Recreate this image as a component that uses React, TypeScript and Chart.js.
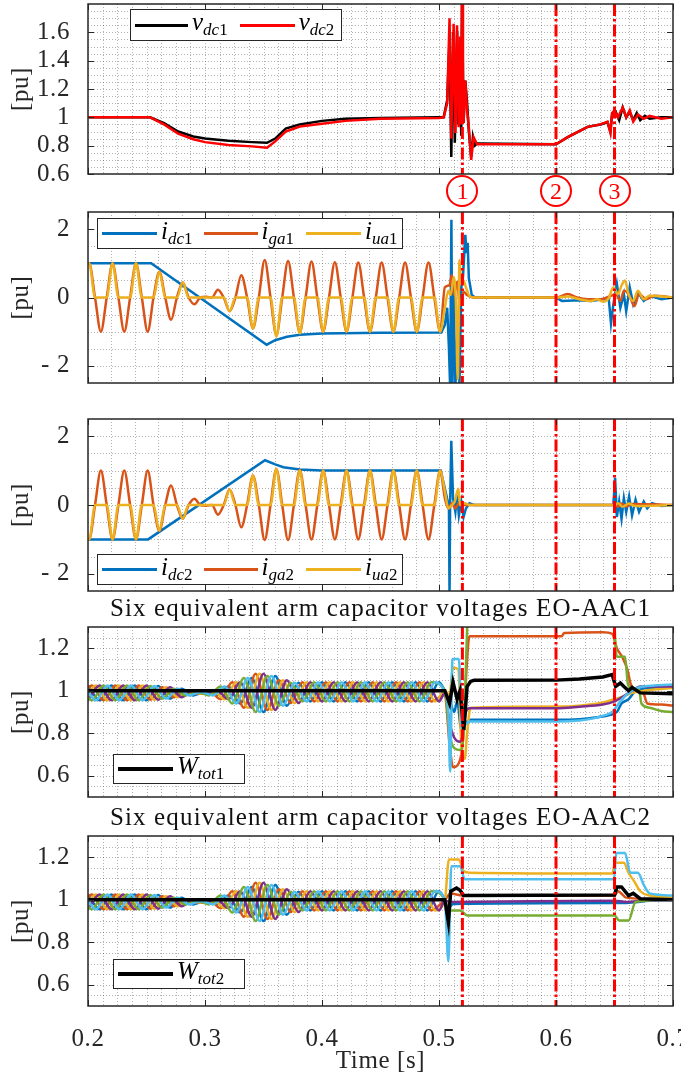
import React, { useEffect, useRef } from 'react';
import { Chart, registerables } from 'chart.js';

Chart.register(...registerables);

const SERIF = '"Liberation Serif", "Times New Roman", serif';
const INK = '#262626';
const GRID = 'rgba(0,0,0,0.30)';
const BLUE = '#0072BD';
const ORANGE = '#D95319';
const YELLOW = '#EDB120';
const PURPLE = '#7E2F8E';
const GREEN = '#77AC30';
const LBLUE = '#4DBEEE';
const BLACK = '#000000';
const RED = '#FF0000';

const X_MIN = 0.2;
const X_MAX = 0.7;
const xTicks = [0.2, 0.3, 0.4, 0.5, 0.6, 0.7];
const xTickLabels = ['0.2', '0.3', '0.4', '0.5', '0.6', '0.7'];
const eventTimes = [0.52, 0.6, 0.65];
const eventNames = ['1', '2', '3'];

const yTicksV = [0.6, 0.8, 1, 1.2, 1.4, 1.6];
const yLabelsV = ['0.6', '0.8', '1', '1.2', '1.4', '1.6'];
const yTicksI = [-2, 0, 2];
const yLabelsI = ['- 2', '0', '2'];
const yTicksW = [0.6, 0.8, 1, 1.2];
const yLabelsW = ['0.6', '0.8', '1', '1.2'];

// ---------- Panel 1: DC voltages ----------
const vdc1 = [[0.2,1],[0.253,1],[0.265,0.96],[0.277,0.9],[0.29,0.865],[0.3,0.85],[0.32,0.835],[0.34,0.825],[0.353,0.82],[0.36,0.85],[0.369,0.92],[0.381,0.95],[0.4,0.975],[0.42,0.99],[0.45,0.995],[0.5,1],[0.504,1],[0.507,1.12],[0.509,1.55],[0.5105,0.72],[0.512,1.6],[0.5135,0.82],[0.5155,1.61],[0.5165,0.95],[0.518,1.5],[0.519,0.87],[0.5197,1.85],[0.521,0.96],[0.5225,1.26],[0.524,1.1],[0.5255,0.9],[0.5275,0.72],[0.529,0.86],[0.5305,0.8],[0.5325,0.815],[0.6,0.81],[0.61,0.86],[0.627,0.933],[0.638,0.95],[0.644,0.965],[0.6465,0.9],[0.648,1.03],[0.651,1.04],[0.654,0.98],[0.657,1.07],[0.66,1],[0.663,1.04],[0.666,0.98],[0.669,1.03],[0.672,0.98],[0.676,1.01],[0.68,0.99],[0.69,1],[0.7,1]];
const vdc2 = [[0.2,1],[0.253,1],[0.265,0.95],[0.277,0.885],[0.29,0.845],[0.3,0.825],[0.32,0.805],[0.34,0.795],[0.353,0.785],[0.36,0.83],[0.369,0.9],[0.381,0.935],[0.4,0.955],[0.42,0.975],[0.45,0.99],[0.5,0.995],[0.504,1],[0.507,1.1],[0.509,1.7],[0.5105,0.85],[0.5125,1.66],[0.514,0.89],[0.5154,1.65],[0.5168,0.93],[0.518,1.57],[0.519,0.95],[0.5197,1.9],[0.5205,1],[0.521,0.96],[0.5225,1.26],[0.524,1.05],[0.5255,0.93],[0.5275,0.7],[0.5285,0.78],[0.5296,0.86],[0.5325,0.81],[0.6,0.81],[0.61,0.86],[0.627,0.933],[0.638,0.95],[0.644,0.97],[0.6465,0.89],[0.648,1.03],[0.65,1.05],[0.653,1],[0.657,1.07],[0.66,1],[0.663,1.05],[0.666,0.97],[0.67,1.02],[0.675,0.99],[0.68,1.01],[0.69,0.99],[0.7,1]];

// ---------- Panel 2: currents, converter 1 ----------
const idc1 = [[0.2,1],[0.254,1],[0.3527,-1.38],[0.36,-1.25],[0.37,-1.15],[0.381,-1.09],[0.4,-1.05],[0.45,-1.03],[0.502,-1.02],[0.505,-0.8],[0.507,-0.3],[0.5085,-1.5],[0.5095,-2.6],[0.5106,2.27],[0.5115,-2.6],[0.5125,0.4],[0.514,-2.6],[0.516,-0.8],[0.5175,-2.6],[0.519,0.3],[0.5205,0.6],[0.5225,1.83],[0.5235,1.3],[0.5245,1.6],[0.5255,0.57],[0.528,0.07],[0.531,0],[0.6,0],[0.605,-0.1],[0.62,-0.08],[0.63,-0.1],[0.64,-0.05],[0.645,0],[0.647,-0.76],[0.649,-0.2],[0.652,0.4],[0.655,-0.3],[0.658,0.1],[0.66,-0.4],[0.663,0.3],[0.666,-0.2],[0.67,0.15],[0.675,-0.1],[0.68,0.05],[0.69,-0.05],[0.7,0]];
const iga1 = [[0.2,0.99],[0.201,1],[0.206,0],[0.211,-1],[0.216,0],[0.221,1],[0.226,0],[0.231,-1],[0.236,0],[0.241,1],[0.246,0],[0.251,-1],[0.256,0],[0.261,0.75],[0.266,0],[0.271,-0.65],[0.276,0],[0.281,0.44],[0.286,0],[0.291,-0.2],[0.296,0],[0.301,0.02],[0.306,0],[0.311,0.23],[0.316,0],[0.321,-0.4],[0.326,0],[0.331,0.65],[0.336,0],[0.341,-0.9],[0.346,0],[0.351,1.1],[0.356,0],[0.361,-1.1],[0.366,0],[0.371,1.07],[0.376,0],[0.381,-1.02],[0.386,0],[0.391,1.05],[0.396,0],[0.401,-1],[0.406,0],[0.411,1.03],[0.416,0],[0.421,-1],[0.426,0],[0.431,1.02],[0.436,0],[0.441,-1],[0.446,0],[0.451,1.02],[0.456,0],[0.461,-1],[0.466,0],[0.471,1.02],[0.476,0],[0.481,-1],[0.486,0],[0.491,1.02],[0.496,0],[0.501,-1],[0.505,0.3],[0.509,0.36],[0.511,0.66],[0.513,0.07],[0.5155,0.46],[0.518,-0.23],[0.521,0.17],[0.524,0.07],[0.527,0.02],[0.53,0],[0.6,0],[0.61,0.1],[0.618,0],[0.627,-0.05],[0.638,-0.05],[0.647,0.05],[0.651,0.1],[0.655,-0.1],[0.658,0.2],[0.661,0.15],[0.664,-0.05],[0.667,-0.25],[0.671,0.1],[0.677,-0.05],[0.684,0.05],[0.7,0]];
const iua1 = [[0.2,0.98],[0.201,1],[0.206,0],[0.216,0],[0.221,1],[0.226,0],[0.236,0],[0.241,1],[0.246,0],[0.256,0],[0.261,0.75],[0.266,0],[0.276,0],[0.281,0.44],[0.286,0],[0.316,0],[0.321,-0.4],[0.326,0],[0.336,0],[0.341,-0.9],[0.346,0],[0.356,0],[0.361,-1.15],[0.366,0],[0.376,0],[0.381,-1.05],[0.386,0],[0.396,0],[0.401,-1],[0.406,0],[0.416,0],[0.421,-1],[0.426,0],[0.436,0],[0.441,-1],[0.446,0],[0.456,0],[0.461,-1],[0.466,0],[0.476,0],[0.481,-1],[0.486,0],[0.496,0],[0.501,-1],[0.505,-0.3],[0.508,0.2],[0.51,0.07],[0.5125,0.6],[0.5145,-0.2],[0.516,-2.4],[0.5175,1.1],[0.519,0.4],[0.521,0.5],[0.523,0.3],[0.526,0.05],[0.53,0],[0.6,0],[0.61,0.03],[0.62,-0.05],[0.63,-0.1],[0.635,-0.05],[0.64,-0.12],[0.645,-0.02],[0.649,0.3],[0.653,0.1],[0.656,0.35],[0.659,0.5],[0.662,0.1],[0.666,-0.1],[0.67,0.2],[0.675,-0.05],[0.68,0.05],[0.7,0]];

// ---------- Panel 3: currents, converter 2 ----------
const idc2 = [[0.2,-1],[0.2514,-1],[0.3513,1.3],[0.36,1.18],[0.367,1.1],[0.381,1.03],[0.4,1],[0.5015,1],[0.5085,-0.05],[0.509,-2.6],[0.5095,0],[0.5105,1.87],[0.512,0.2],[0.514,-0.2],[0.5155,0.3],[0.517,-0.3],[0.519,0.1],[0.521,-0.35],[0.523,-0.1],[0.526,0.05],[0.53,0],[0.649,0],[0.6505,0.79],[0.652,-0.35],[0.654,0.1],[0.656,-0.4],[0.658,0.2],[0.66,-0.2],[0.6625,0.25],[0.665,-0.3],[0.668,0.15],[0.671,-0.2],[0.675,0.1],[0.678,-0.1],[0.682,0.05],[0.69,-0.03],[0.7,0]];
const iga2 = [[0.2,-0.99],[0.201,-1],[0.206,0],[0.211,1],[0.216,0],[0.221,-1],[0.226,0],[0.231,1],[0.236,0],[0.241,-1],[0.246,0],[0.251,1],[0.256,0],[0.261,-0.75],[0.266,0],[0.271,0.57],[0.276,0],[0.281,-0.4],[0.286,0],[0.291,0.18],[0.296,0],[0.301,-0.02],[0.306,0],[0.311,-0.28],[0.316,0],[0.321,0.45],[0.326,0],[0.331,-0.65],[0.336,0],[0.341,0.86],[0.346,0],[0.351,-1.02],[0.356,0],[0.361,1.05],[0.366,0],[0.371,-1.02],[0.376,0],[0.381,1.02],[0.386,0],[0.391,-1],[0.396,0],[0.401,1],[0.406,0],[0.411,-1],[0.416,0],[0.421,1],[0.426,0],[0.431,-1],[0.436,0],[0.441,1],[0.446,0],[0.451,-1],[0.456,0],[0.461,1],[0.466,0],[0.471,-1],[0.476,0],[0.481,1],[0.486,0],[0.491,-1],[0.496,0],[0.501,1],[0.505,0.2],[0.508,-0.1],[0.511,0.05],[0.514,-0.1],[0.517,0.05],[0.52,0],[0.65,0],[0.653,-0.05],[0.656,0.04],[0.66,-0.04],[0.665,0.03],[0.7,0]];
const iua2 = [[0.2,-0.98],[0.201,-1],[0.206,0],[0.216,0],[0.221,-1],[0.226,0],[0.236,0],[0.241,-1],[0.246,0],[0.256,0],[0.261,-0.75],[0.266,0],[0.276,0],[0.281,-0.4],[0.286,0],[0.316,0],[0.321,0.45],[0.326,0],[0.336,0],[0.341,0.86],[0.346,0],[0.356,0],[0.361,1.05],[0.366,0],[0.376,0],[0.381,1],[0.386,0],[0.396,0],[0.401,1],[0.406,0],[0.416,0],[0.421,1],[0.426,0],[0.436,0],[0.441,1],[0.446,0],[0.456,0],[0.461,1],[0.466,0],[0.476,0],[0.481,1],[0.486,0],[0.496,0],[0.501,1],[0.505,0.4],[0.508,-0.1],[0.511,0],[0.5135,0.1],[0.5165,0.47],[0.518,0],[0.522,0.05],[0.526,0],[0.65,0],[0.653,0.05],[0.657,-0.05],[0.662,0.04],[0.668,-0.03],[0.7,0]];

// ---------- Panels 4 & 5: arm capacitor voltages (pre-fault ripple, read at ripple extrema) ----------
const gridA = [0.2,0.21,0.22,0.23,0.24,0.25,0.26,0.27,0.28,0.29,0.3,0.31,0.32,0.33,0.34,0.35,0.36,0.37,0.38,0.39,0.4,0.41,0.42,0.43,0.44,0.45,0.46,0.47,0.48,0.49,0.5];
const gridB = [0.1967,0.2067,0.2167,0.2267,0.2367,0.2467,0.2567,0.2667,0.2767,0.2867,0.2967,0.3067,0.3167,0.3267,0.3367,0.3467,0.3567,0.3667,0.3767,0.3867,0.3967,0.4067,0.4167,0.4267,0.4367,0.4467,0.4567,0.4667,0.4767,0.4867,0.4967];
const gridC = [0.1933,0.2033,0.2133,0.2233,0.2333,0.2433,0.2533,0.2633,0.2733,0.2833,0.2933,0.3033,0.3133,0.3233,0.3333,0.3433,0.3533,0.3633,0.3733,0.3833,0.3933,0.4033,0.4133,0.4233,0.4333,0.4433,0.4533,0.4633,0.4733,0.4833,0.4933];
const ripUp = [1.025,0.955,1.025,0.955,1.025,0.955,1.022,0.963,1.01,0.978,0.994,0.978,1.02,0.94,1.06,0.9,1.07,0.93,1.038,0.95,1.04,0.95,1.04,0.95,1.04,0.95,1.04,0.95,1.04,0.95,1.04];
const ripLo = [0.955,1.025,0.955,1.025,0.955,1.025,0.958,1.017,0.97,1.002,0.986,1.002,0.96,1.04,0.92,1.08,0.91,1.05,0.942,1.04,0.95,1.04,0.95,1.04,0.95,1.04,0.95,1.04,0.95,1.04,0.95];

const aac1Blue = [[0.505,1],[0.509,0.96],[0.513,0.9],[0.5155,0.95],[0.519,0.82],[0.523,0.85],[0.527,0.863],[0.6,0.863],[0.62,0.866],[0.635,0.875],[0.645,0.885],[0.652,0.9],[0.656,0.94],[0.662,0.96],[0.668,1],[0.675,1.01],[0.685,1.015],[0.7,1.02]];
const aac1LBlue = [[0.505,0.99],[0.508,0.9],[0.5095,0.62],[0.5115,1.15],[0.517,1.15],[0.5195,0.82],[0.523,0.845],[0.527,0.855],[0.6,0.855],[0.62,0.86],[0.632,0.87],[0.642,0.885],[0.648,0.9],[0.655,0.95],[0.66,0.98],[0.668,1.01],[0.675,1.02],[0.7,1.03]];
const aac1Yellow = [[0.505,1],[0.509,0.98],[0.512,1.11],[0.5165,1.1],[0.5195,0.7],[0.522,0.68],[0.524,0.8],[0.527,0.92],[0.6,0.926],[0.62,0.93],[0.64,0.945],[0.65,0.96],[0.658,0.975],[0.665,0.99],[0.675,1],[0.7,1.013]];
const aac1Purple = [[0.505,0.99],[0.509,0.85],[0.513,0.78],[0.518,0.76],[0.5205,0.8],[0.523,0.9],[0.526,0.918],[0.6,0.918],[0.62,0.925],[0.64,0.935],[0.65,0.95],[0.658,0.975],[0.665,1],[0.672,1.02],[0.7,1.02]];
const aac1Green = [[0.505,1],[0.509,0.8],[0.513,0.73],[0.519,0.72],[0.5215,0.85],[0.5235,1.2],[0.525,1.4],[0.649,1.4],[0.651,1.2],[0.652,1.16],[0.659,1.16],[0.6615,1.03],[0.665,1.01],[0.671,1.005],[0.673,0.94],[0.68,0.92],[0.69,0.905],[0.7,0.9]];
const aac1Orange = [[0.505,0.98],[0.509,0.75],[0.512,0.64],[0.517,0.66],[0.521,0.8],[0.5235,1.1],[0.526,1.257],[0.605,1.257],[0.607,1.272],[0.64,1.275],[0.648,1.268],[0.652,1.2],[0.657,1.155],[0.661,1.1],[0.664,1.03],[0.67,1],[0.675,0.985],[0.678,0.94],[0.69,0.935],[0.7,0.93]];
const wtot1 = [[0.2,1],[0.505,1],[0.509,0.94],[0.512,1.04],[0.5155,0.96],[0.518,1],[0.5212,0.815],[0.524,1.02],[0.527,1.044],[0.53,1.049],[0.6,1.05],[0.62,1.055],[0.64,1.065],[0.648,1.076],[0.651,1.02],[0.655,1.036],[0.658,1.02],[0.662,1],[0.665,1.015],[0.672,0.99],[0.7,0.986]];

const aac2Yellow = [[0.505,1],[0.5085,1.19],[0.517,1.19],[0.521,1.135],[0.526,1.127],[0.648,1.123],[0.6505,1.174],[0.658,1.174],[0.662,1.127],[0.667,1.085],[0.672,1.04],[0.68,1.02],[0.7,1.01]];
const aac2LBlue = [[0.505,1],[0.508,0.71],[0.5105,1.158],[0.518,1.158],[0.522,1.096],[0.6495,1.096],[0.6515,1.22],[0.659,1.22],[0.6635,1.127],[0.67,1.127],[0.675,1.07],[0.68,1.03],[0.7,1.02]];
const aac2Orange = [[0.505,1],[0.51,1.03],[0.52,1.02],[0.65,1.02],[0.653,1.04],[0.66,1.01],[0.7,1]];
const aac2Purple = [[0.505,0.995],[0.51,0.99],[0.65,0.995],[0.66,0.99],[0.675,0.995],[0.7,1]];
const aac2Blue = [[0.505,1],[0.508,0.96],[0.512,0.98],[0.65,0.985],[0.66,0.985],[0.68,0.995],[0.7,1]];
const aac2Green = [[0.505,1],[0.508,0.95],[0.518,0.95],[0.524,0.926],[0.65,0.926],[0.654,0.902],[0.662,0.902],[0.668,0.99],[0.7,1]];
const wtot2 = [[0.2,1],[0.505,1],[0.508,0.895],[0.51,1.04],[0.515,1.055],[0.518,1.045],[0.521,1.02],[0.65,1.022],[0.652,1.06],[0.656,1.06],[0.662,1.02],[0.666,1.03],[0.672,1.005],[0.7,1]];

const zipPre = (grid: number[], vals: number[]) => grid.map((t, i) => [t, vals[i]]);

type Series = { pts: number[][]; color: string; width: number; order: number; smooth: boolean };
type PanelCfg = {
  top: number; bottom: number; yMin: number; yMax: number; yTicks: number[]; yLabels: string[];
  yMinor: number; xMinor: number; showX: boolean; series: Series[];
};

const armSeries = (post: Record<string, number[][]>, w: number[][]): Series[] => [
  { pts: zipPre(gridA, ripUp).concat(post.blue), color: BLUE, width: 2.5, order: 6, smooth: true },
  { pts: zipPre(gridC, ripLo).concat(post.orange), color: ORANGE, width: 2.5, order: 5, smooth: true },
  { pts: zipPre(gridB, ripLo).concat(post.yellow), color: YELLOW, width: 2.5, order: 4, smooth: true },
  { pts: zipPre(gridA, ripLo).concat(post.purple), color: PURPLE, width: 2.5, order: 3, smooth: true },
  { pts: zipPre(gridC, ripUp).concat(post.green), color: GREEN, width: 2.5, order: 2, smooth: true },
  { pts: zipPre(gridB, ripUp).concat(post.lblue), color: LBLUE, width: 2.5, order: 1, smooth: true },
  { pts: w, color: BLACK, width: 3.5, order: 0, smooth: false },
];

const panels: PanelCfg[] = [
  { top: 4, bottom: 174, yMin: 0.6, yMax: 1.8, yTicks: yTicksV, yLabels: yLabelsV, yMinor: 0.05, xMinor: 0.0125, showX: false,
    series: [ { pts: vdc1, color: BLACK, width: 2.5, order: 1, smooth: false }, { pts: vdc2, color: RED, width: 2.5, order: 0, smooth: false } ] },
  { top: 212, bottom: 383, yMin: -2.5, yMax: 2.5, yTicks: yTicksI, yLabels: yLabelsI, yMinor: 0.5, xMinor: 0.02, showX: false,
    series: [ { pts: idc1, color: BLUE, width: 2.5, order: 2, smooth: false }, { pts: iga1, color: ORANGE, width: 2.5, order: 1, smooth: true }, { pts: iua1, color: YELLOW, width: 2.5, order: 0, smooth: true } ] },
  { top: 419, bottom: 591, yMin: -2.5, yMax: 2.5, yTicks: yTicksI, yLabels: yLabelsI, yMinor: 0.5, xMinor: 0.02, showX: false,
    series: [ { pts: idc2, color: BLUE, width: 2.5, order: 2, smooth: false }, { pts: iga2, color: ORANGE, width: 2.5, order: 1, smooth: true }, { pts: iua2, color: YELLOW, width: 2.5, order: 0, smooth: true } ] },
  { top: 627, bottom: 797, yMin: 0.5, yMax: 1.3, yTicks: yTicksW, yLabels: yLabelsW, yMinor: 0.05, xMinor: 0.0125, showX: false,
    series: armSeries({ blue: aac1Blue, orange: aac1Orange, yellow: aac1Yellow, purple: aac1Purple, green: aac1Green, lblue: aac1LBlue }, wtot1) },
  { top: 836, bottom: 1006, yMin: 0.5, yMax: 1.3, yTicks: yTicksW, yLabels: yLabelsW, yMinor: 0.05, xMinor: 0.0125, showX: true,
    series: armSeries({ blue: aac2Blue, orange: aac2Orange, yellow: aac2Yellow, purple: aac2Purple, green: aac2Green, lblue: aac2LBlue }, wtot2) },
];

const FONT = { family: SERIF, size: 25 };
const X_AXIS_H = 70;

function makeFrame(p: PanelCfg) {
  return {
    id: 'frame',
    beforeDraw(chart: any) {
      try { chart.ctx.letterSpacing = '0.6px'; } catch (e) { /* ignore */ }
    },
    beforeDatasetsDraw(chart: any) {
      const { ctx, chartArea: a, scales } = chart;
      const xs = scales.x;
      const ys = scales.y;
      ctx.save();
      ctx.strokeStyle = GRID;
      ctx.lineWidth = 1;
      ctx.setLineDash([1, 2]);
      const nx = Math.round((X_MAX - X_MIN) / p.xMinor);
      for (let i = 1; i < nx; i++) {
        const px = Math.round(xs.getPixelForValue(X_MIN + i * p.xMinor)) + 0.5;
        ctx.beginPath(); ctx.moveTo(px, a.top); ctx.lineTo(px, a.bottom); ctx.stroke();
      }
      const ny = Math.round((p.yMax - p.yMin) / p.yMinor);
      for (let j = 1; j < ny; j++) {
        const py = Math.round(ys.getPixelForValue(p.yMin + j * p.yMinor)) + 0.5;
        ctx.beginPath(); ctx.moveTo(a.left, py); ctx.lineTo(a.right, py); ctx.stroke();
      }
      ctx.restore();
    },
    afterDatasetsDraw(chart: any) {
      const { ctx, chartArea: a, scales } = chart;
      const xs = scales.x;
      const ys = scales.y;
      ctx.save();
      ctx.beginPath();
      ctx.rect(a.left, a.top, a.right - a.left, a.bottom - a.top);
      ctx.clip();
      ctx.strokeStyle = RED;
      ctx.lineWidth = 3;
      ctx.setLineDash([12, 3, 2.5, 3]);
      eventTimes.forEach((t) => {
        const px = xs.getPixelForValue(t);
        ctx.beginPath(); ctx.moveTo(px, a.top); ctx.lineTo(px, a.bottom); ctx.stroke();
      });
      ctx.restore();
      ctx.save();
      ctx.strokeStyle = INK;
      ctx.lineWidth = 1.5;
      ctx.strokeRect(a.left, a.top, a.right - a.left, a.bottom - a.top);
      ctx.lineWidth = 1;
      const tl = 6;
      xTicks.forEach((v) => {
        const px = Math.round(xs.getPixelForValue(v)) + 0.5;
        ctx.beginPath(); ctx.moveTo(px, a.top); ctx.lineTo(px, a.top + tl); ctx.stroke();
        ctx.beginPath(); ctx.moveTo(px, a.bottom); ctx.lineTo(px, a.bottom - tl); ctx.stroke();
      });
      p.yTicks.forEach((v) => {
        const py = Math.round(ys.getPixelForValue(v)) + 0.5;
        ctx.beginPath(); ctx.moveTo(a.left, py); ctx.lineTo(a.left + tl, py); ctx.stroke();
        ctx.beginPath(); ctx.moveTo(a.right, py); ctx.lineTo(a.right - tl, py); ctx.stroke();
      });
      ctx.restore();
    },
  };
}

function Panel({ p }: { p: PanelCfg }) {
  const ref = useRef<HTMLCanvasElement>(null);
  const padT = Math.min(6, p.top);
  const padB = p.showX ? 0 : 16;
  const h = p.bottom - p.top + padT + padB + (p.showX ? X_AXIS_H : 0);
  useEffect(() => {
    if (!ref.current) return;
    const chart = new Chart(ref.current, {
      type: 'line',
      data: {
        datasets: p.series.map((s) => ({
          data: s.pts.map(([x, y]) => ({ x, y })),
          borderColor: s.color,
          backgroundColor: s.color,
          borderWidth: s.width,
          pointRadius: 0,
          cubicInterpolationMode: s.smooth ? 'monotone' : 'default',
          tension: 0,
          fill: false,
          order: s.order,
        })),
      },
      options: {
        animation: false,
        responsive: false,
        devicePixelRatio: 1,
        events: [],
        layout: { padding: { top: padT, right: 8, left: 0, bottom: padB } },
        plugins: { legend: { display: false }, tooltip: { enabled: false } },
        scales: {
          x: {
            type: 'linear', min: X_MIN, max: X_MAX,
            grid: { display: false }, border: { display: false },
            afterBuildTicks: (s: any) => { s.ticks = xTicks.map((v) => ({ value: v })); },
            afterFit: (s: any) => { s.height = p.showX ? X_AXIS_H : 0; s.paddingLeft = 0; s.paddingRight = 0; s.paddingTop = 0; s.paddingBottom = 0; },
            ticks: { display: p.showX, font: FONT, color: INK, padding: 10, maxRotation: 0, autoSkip: false,
              callback: (_v: any, i: number) => xTickLabels[i] },
            title: { display: p.showX, text: 'Time [s]', font: FONT, color: INK, padding: { top: 0, bottom: 0 } },
          },
          y: {
            type: 'linear', min: p.yMin, max: p.yMax,
            grid: { display: false }, border: { display: false },
            afterBuildTicks: (s: any) => { s.ticks = p.yTicks.map((v) => ({ value: v })); },
            afterFit: (s: any) => { s.width = 88; s.paddingLeft = 0; s.paddingRight = 0; s.paddingTop = 0; s.paddingBottom = 0; },
            ticks: { font: FONT, color: INK, padding: 10, autoSkip: false,
              callback: (_v: any, i: number) => p.yLabels[i] },
            title: { display: true, text: '[pu]', font: FONT, color: INK, padding: { top: 6, bottom: 0 } },
          },
        },
      } as any,
      plugins: [makeFrame(p)],
    });
    return () => chart.destroy();
  }, []);
  return (
    <canvas ref={ref} width={681} height={h}
      style={{ position: 'absolute', left: 0, top: p.top - padT, width: 681, height: h }} />
  );
}

function Sym({ base, sub, num }: { base: string; sub: string; num: string }) {
  return (
    <span style={{ fontFamily: SERIF, fontStyle: 'italic', fontSize: 25, lineHeight: '25px', whiteSpace: 'nowrap', color: '#000' }}>
      {base}
      <span style={{ fontSize: 17, position: 'relative', top: 5 }}>
        {sub}<span style={{ fontStyle: 'normal' }}>{num}</span>
      </span>
    </span>
  );
}

type LegItem = { base: string; sub: string; num: string; color: string; lineW: number; thick: number; gap: number };

function Legend({ left, top, width, height, items }: { left: number; top: number; width: number; height: number; items: LegItem[] }) {
  return (
    <div style={{ position: 'absolute', left, top, width, height, boxSizing: 'border-box', border: `1.5px solid ${INK}`,
      background: '#fff', display: 'flex', alignItems: 'center', paddingLeft: 4 }}>
      {items.map((it, i) => (
        <div key={i} style={{ display: 'flex', alignItems: 'center', marginRight: it.gap }}>
          <div style={{ width: it.lineW, height: it.thick, background: it.color }} />
          <div style={{ marginLeft: 4, marginTop: -4 }}><Sym base={it.base} sub={it.sub} num={it.num} /></div>
        </div>
      ))}
    </div>
  );
}

const legendV: LegItem[] = [
  { base: 'v', sub: 'dc', num: '1', color: BLACK, lineW: 53, thick: 3, gap: 12 },
  { base: 'v', sub: 'dc', num: '2', color: RED, lineW: 55, thick: 3, gap: 0 },
];
const legendI1: LegItem[] = [
  { base: 'i', sub: 'dc', num: '1', color: BLUE, lineW: 55, thick: 3, gap: 11 },
  { base: 'i', sub: 'ga', num: '1', color: ORANGE, lineW: 54, thick: 3, gap: 12 },
  { base: 'i', sub: 'ua', num: '1', color: YELLOW, lineW: 55, thick: 3, gap: 0 },
];
const legendI2: LegItem[] = [
  { base: 'i', sub: 'dc', num: '2', color: BLUE, lineW: 55, thick: 3, gap: 11 },
  { base: 'i', sub: 'ga', num: '2', color: ORANGE, lineW: 54, thick: 3, gap: 12 },
  { base: 'i', sub: 'ua', num: '2', color: YELLOW, lineW: 55, thick: 3, gap: 0 },
];
const legendW1: LegItem[] = [{ base: 'W', sub: 'tot', num: '1', color: BLACK, lineW: 55, thick: 4, gap: 0 }];
const legendW2: LegItem[] = [{ base: 'W', sub: 'tot', num: '2', color: BLACK, lineW: 55, thick: 4, gap: 0 }];

const titles = [
  { text: 'Six equivalent arm capacitor voltages EO-AAC1', cy: 608 },
  { text: 'Six equivalent arm capacitor voltages EO-AAC2', cy: 817 },
];

// pixel x of an event time on the shared time axis (plot spans x = 88..673)
const eventX = (t: number) => 88 + ((t - X_MIN) / (X_MAX - X_MIN)) * (673 - 88);

export default function App() {
  return (
    <div style={{ position: 'absolute', left: 0, top: 0, width: 681, height: 1078, background: '#fff', overflow: 'hidden' }}>
      {panels.map((p, i) => <Panel key={i} p={p} />)}
      <Legend left={130} top={9} width={212} height={32} items={legendV} />
      <Legend left={97} top={218} width={306} height={31} items={legendI1} />
      <Legend left={97} top={554} width={306} height={31} items={legendI2} />
      <Legend left={113} top={754} width={132} height={30} items={legendW1} />
      <Legend left={113} top={959} width={132} height={30} items={legendW2} />
      {titles.map((t, i) => (
        <div key={i} style={{ position: 'absolute', left: 88, width: 585, top: t.cy - 15, height: 30, lineHeight: '30px',
          textAlign: 'center', fontFamily: SERIF, fontSize: 25, letterSpacing: '1.15px', color: '#111', whiteSpace: 'nowrap' }}>
          {t.text}
        </div>
      ))}
      {eventTimes.map((t, i) => (
        <div key={i} style={{ position: 'absolute', left: eventX(t) - 16, top: 175, width: 32, height: 32, boxSizing: 'border-box',
          border: `2px solid ${RED}`, borderRadius: '50%', display: 'flex', alignItems: 'center', justifyContent: 'center',
          color: RED, fontFamily: SERIF, fontSize: 24, lineHeight: '24px' }}>
          {eventNames[i]}
        </div>
      ))}
    </div>
  );
}
